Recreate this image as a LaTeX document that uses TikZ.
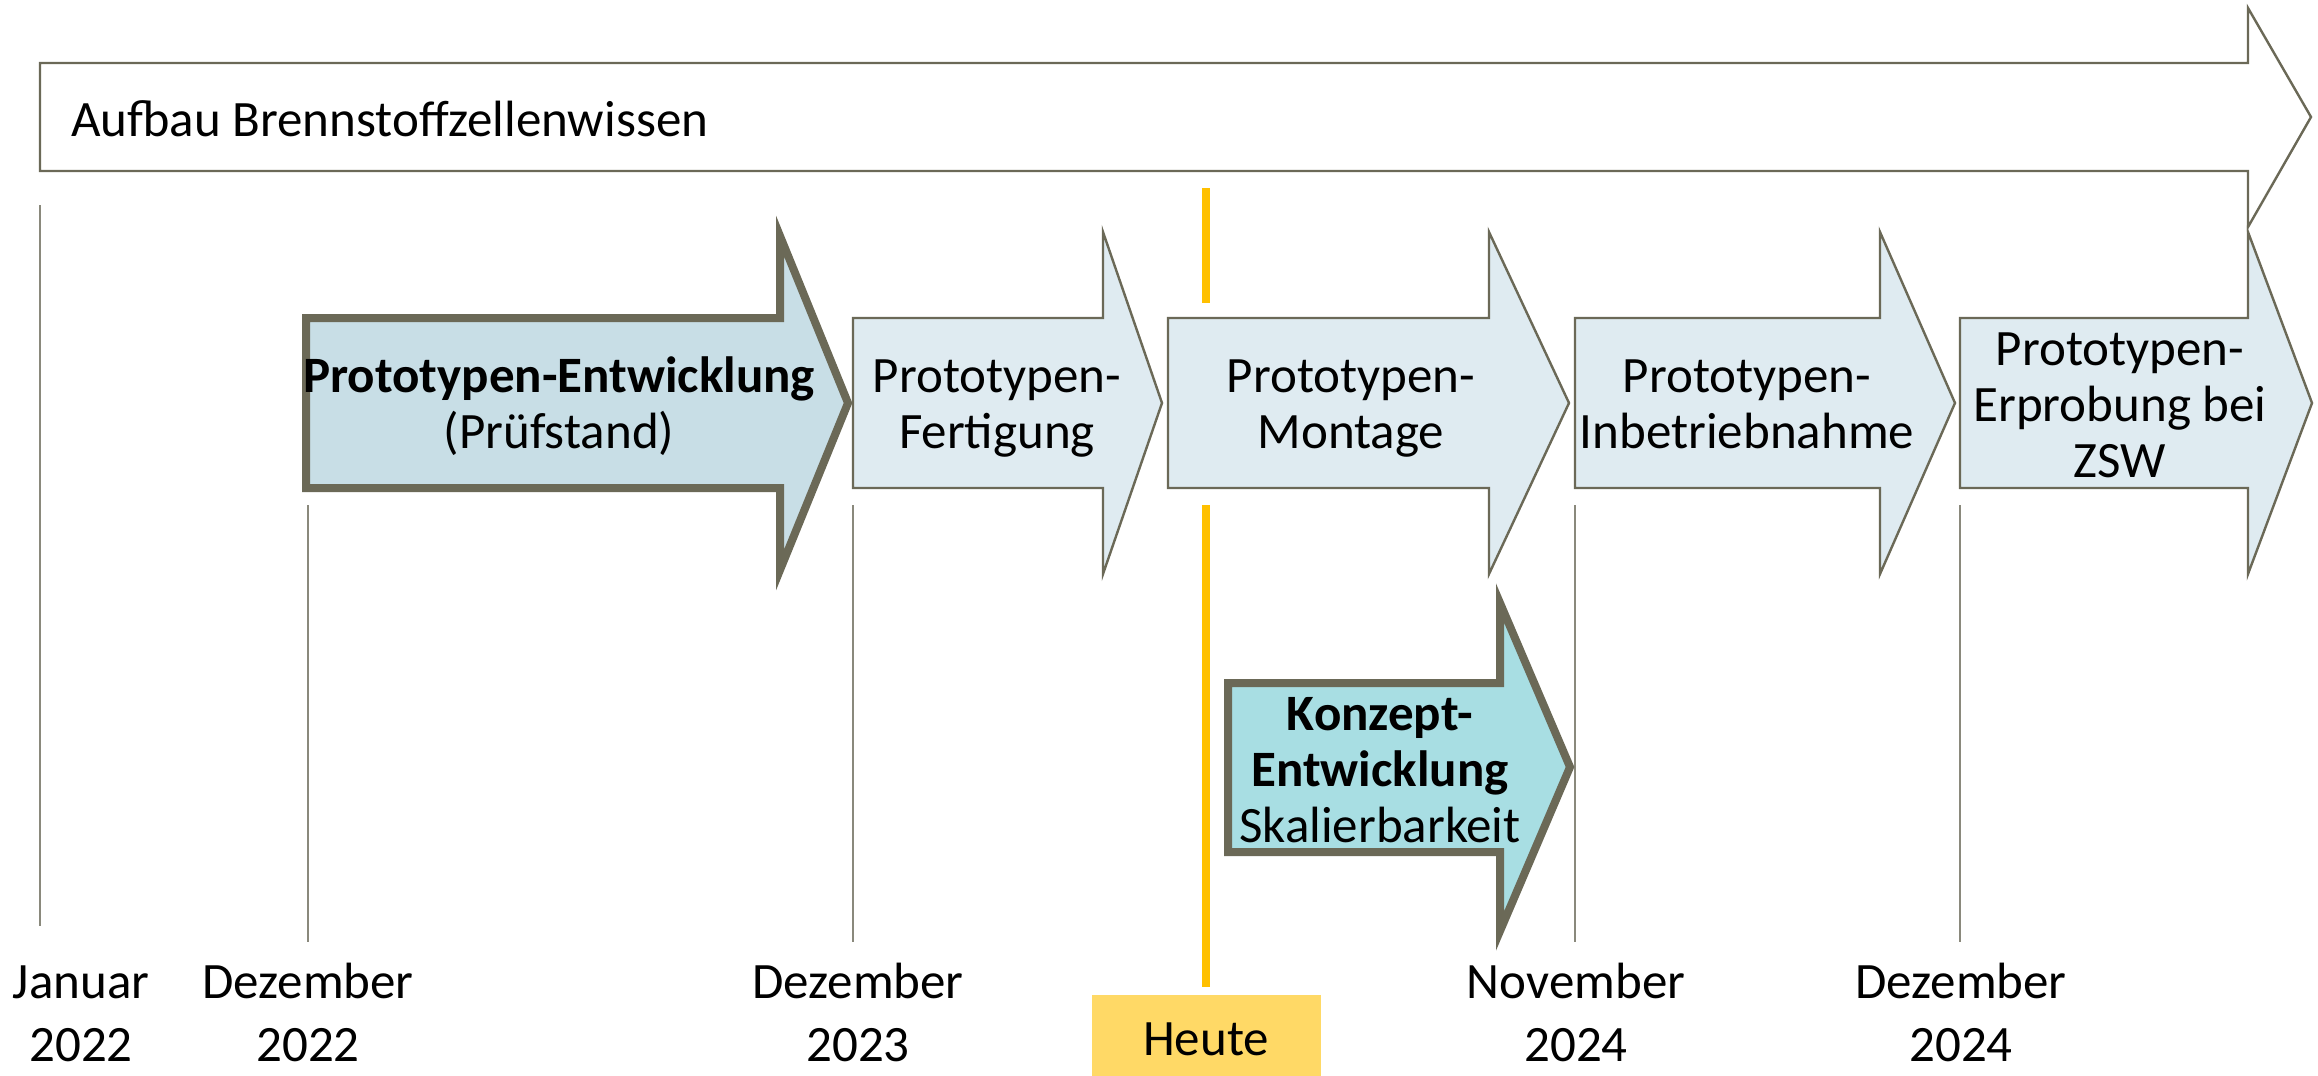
\documentclass[tikz,border=0pt]{standalone}
\usepackage{fontspec}
\setmainfont{Carlito}
\definecolor{edge}{HTML}{6B6957}
\definecolor{vline}{HTML}{8A897C}
\definecolor{fillA}{HTML}{C8DEE6}
\definecolor{fillB}{HTML}{DFEBF1}
\definecolor{fillC}{HTML}{A8DEE3}
\definecolor{heuteline}{HTML}{FFC000}
\definecolor{heutebox}{HTML}{FFD966}
\begin{document}
\begin{tikzpicture}[x=0.5pt,y=-0.5pt,
  thinarrow/.style={draw=edge,line width=1.2pt,fill=fillB,line join=miter},
  thickarrow/.style={draw=edge,line width=4pt,line join=miter},
  gridline/.style={draw=vline,line width=0.6pt},
  txt/.style={font=\fontsize{25.5}{28}\selectfont,align=center,inner sep=0pt,text depth=0pt},
  datetxt/.style={font=\fontsize{25.5}{31.5}\selectfont,align=center,inner sep=0pt,anchor=base}]
\useasboundingbox (0,0) rectangle (2318,1076);
% top arrow
\draw[draw=edge,line width=1.2pt,fill=white,line join=miter]
  (40,63) -- (2248,63) -- (2248,8) -- (2311,117) -- (2248,227) -- (2248,171) -- (40,171) -- cycle;
\node[txt,anchor=base west] (aufbau) at (71,136) {Aufbau Brennstoffzellenwissen};
% grid lines
\coordinate (g0t) at (40,205); \coordinate (g0b) at (40,926);
\coordinate (g1t) at (308,505); \coordinate (g1b) at (308,942);
\coordinate (g2t) at (853,505); \coordinate (g2b) at (853,942);
\coordinate (g3t) at (1575,505); \coordinate (g3b) at (1575,942);
\coordinate (g4t) at (1960,505); \coordinate (g4b) at (1960,942);
\foreach \i in {0,...,4} {\draw[gridline] (g\i t) -- (g\i b);}
% heute line
\coordinate (h1) at (1206,188); \coordinate (h2) at (1206,303);
\coordinate (h3) at (1206,505); \coordinate (h4) at (1206,987);
\draw[heuteline,line width=4pt] (h1) -- (h2);
\draw[heuteline,line width=4pt] (h3) -- (h4);
% phase arrows
\draw[thickarrow,fill=fillA]
  (306,318) -- (780,318) -- (780,236) -- (848,403) -- (780,570) -- (780,488) -- (306,488) -- cycle;
\draw[thinarrow]
  (853,318) -- (1103,318) -- (1103,232) -- (1162,403) -- (1103,574) -- (1103,488) -- (853,488) -- cycle;
\draw[thinarrow]
  (1168,318) -- (1489,318) -- (1489,232) -- (1569,403) -- (1489,574) -- (1489,488) -- (1168,488) -- cycle;
\draw[thinarrow]
  (1575,318) -- (1880,318) -- (1880,232) -- (1955,403) -- (1880,574) -- (1880,488) -- (1575,488) -- cycle;
\draw[thinarrow]
  (1960,318) -- (2248,318) -- (2248,232) -- (2312,403) -- (2248,574) -- (2248,488) -- (1960,488) -- cycle;
\draw[thickarrow,fill=fillC]
  (1228,683) -- (1500,683) -- (1500,603) -- (1570,767) -- (1500,931) -- (1500,852) -- (1228,852) -- cycle;
% arrow texts (anchor = baseline of last line)
\node[txt,anchor=base] (pe) at (559,448) {\textbf{Prototypen-Entwicklung}\\(Prüfstand)};
\node[txt,anchor=base] (pf) at (997,448) {Prototypen-\\Fertigung};
\node[txt,anchor=base] (pm) at (1351,448) {Prototypen-\\Montage};
\node[txt,anchor=base] (pi) at (1747,448) {Prototypen-\\Inbetriebnahme};
\node[txt,anchor=base] (pz) at (2120,477) {Prototypen-\\Erprobung bei\\ZSW};
\node[txt,anchor=base] (ke) at (1380,842) {\textbf{Konzept-}\\\textbf{Entwicklung}\\Skalierbarkeit};
% dates
\node[datetxt] (d0) at (81,1061) {Januar\\2022};
\node[datetxt] (d1) at (308,1061) {Dezember\\2022};
\node[datetxt] (d2) at (858,1061) {Dezember\\2023};
\node[datetxt] (d3) at (1576,1061) {November\\2024};
\node[datetxt] (d4) at (1961,1061) {Dezember\\2024};
% heute box
\fill[heutebox] (1092,995) rectangle (1321,1076);
\node[txt,anchor=base] (heute) at (1206,1055) {Heute};
\end{tikzpicture}
\end{document}
